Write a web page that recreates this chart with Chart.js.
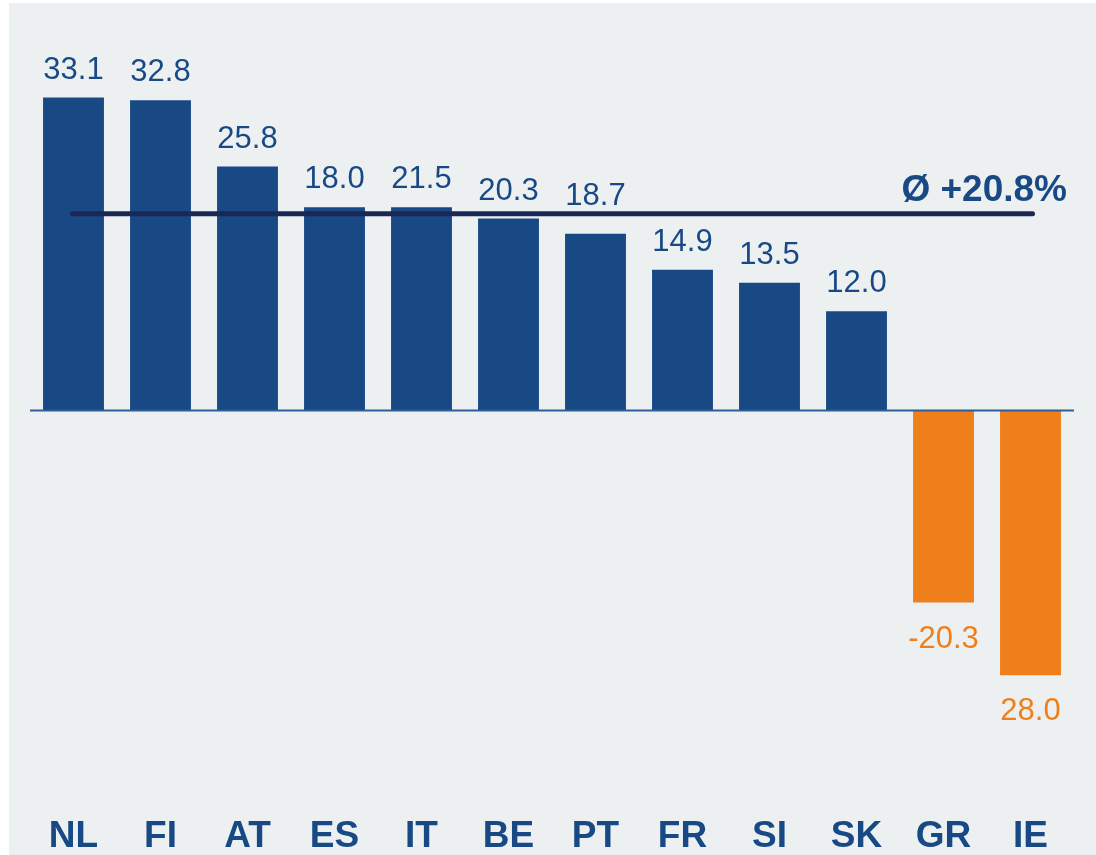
<!DOCTYPE html>
<html>
<head>
<meta charset="utf-8">
<script src="https://cdn.jsdelivr.net/npm/chart.js@4.4.1/dist/chart.umd.min.js"></script>
<style>
  html, body { margin: 0; padding: 0; background: #ffffff; }
  #wrap { position: relative; width: 1096px; height: 855px; }
</style>
</head>
<body>
<div id="wrap"><canvas id="myChart" width="1096" height="855"></canvas></div>
<script>
// country codes on the x axis
const countries = ["NL", "FI", "AT", "ES", "IT", "BE", "PT", "FR", "SI", "SK", "GR", "IE"];
// bar heights as drawn in the picture
const barValues = [33.1, 32.8, 25.8, 21.5, 21.5, 20.3, 18.7, 14.9, 13.5, 10.5, -20.3, -28.0];
// value labels as printed (some differ from the drawn height)
const valueLabels = ["33.1", "32.8", "25.8", "18.0", "21.5", "20.3", "18.7", "14.9", "13.5", "12.0", "-20.3", "28.0"];
const avgValue = 20.8;
const avgLabel = "Ø +20.8%";

const blue = "#194985";
const orange = "#ee7f1a";
const navy = "#1b2755";
const fontFamily = "'Liberation Sans', Arial, sans-serif";

const barColors = barValues.map((v) => (v < 0 ? orange : blue));

const decorPlugin = {
  id: "decor",
  beforeDraw(chart) {
    const ctx = chart.ctx;
    ctx.save();
    ctx.fillStyle = "#ecf0f1";
    ctx.fillRect(9, 3, chart.width - 9, chart.height - 3);
    ctx.restore();
  },
  afterDatasetsDraw(chart) {
    const ctx = chart.ctx;
    const x = chart.scales.x;
    const y = chart.scales.y;
    const meta = chart.getDatasetMeta(0);

    // zero line
    const y0 = y.getPixelForValue(0);
    ctx.save();
    ctx.strokeStyle = "#2f5d9a";
    ctx.lineWidth = 2;
    ctx.beginPath();
    ctx.moveTo(30, y0);
    ctx.lineTo(1074, y0);
    ctx.stroke();

    // average line
    const ya = y.getPixelForValue(avgValue);
    ctx.strokeStyle = navy;
    ctx.lineWidth = 5;
    ctx.lineCap = "round";
    ctx.beginPath();
    ctx.moveTo(x.getPixelForValue(0) - 1, ya);
    ctx.lineTo(x.getPixelForValue(countries.length - 1) + 2, ya);
    ctx.stroke();

    ctx.fillStyle = blue;
    ctx.font = "bold 37px " + fontFamily;
    ctx.textAlign = "right";
    ctx.textBaseline = "alphabetic";
    ctx.fillText(avgLabel, 1067, ya - 13);

    // value labels (pushed above the average line if they would cross it)
    ctx.font = "31px " + fontFamily;
    ctx.textAlign = "center";
    meta.data.forEach((bar, i) => {
      const v = barValues[i];
      ctx.fillStyle = barColors[i];
      let base;
      if (v >= 0) {
        base = bar.y - 19;
        if (base > ya - 4 && base - 23 < ya + 4) base = ya - 9;
      } else {
        base = bar.y + 45;
      }
      ctx.fillText(valueLabels[i], bar.x, base);
    });

    // category labels
    ctx.font = "bold 37px " + fontFamily;
    ctx.fillStyle = blue;
    countries.forEach((c, i) => {
      ctx.fillText(c, x.getPixelForValue(i), 847);
    });
    ctx.restore();
  },
};

new Chart("myChart", {
  type: "bar",
  data: {
    labels: countries,
    datasets: [
      {
        data: barValues,
        backgroundColor: barColors,
        categoryPercentage: 1.0,
        barPercentage: 0.7,
      },
    ],
  },
  options: {
    responsive: false,
    animation: false,
    layout: {
      padding: { left: 30, right: 22, top: 89, bottom: 104 },
    },
    plugins: {
      legend: { display: false },
      tooltip: { enabled: false },
    },
    scales: {
      y: {
        display: false,
        min: -36,
        max: 34,
      },
      x: {
        display: false,
        offset: true,
      },
    },
  },
  plugins: [decorPlugin],
});
</script>
</body>
</html>
